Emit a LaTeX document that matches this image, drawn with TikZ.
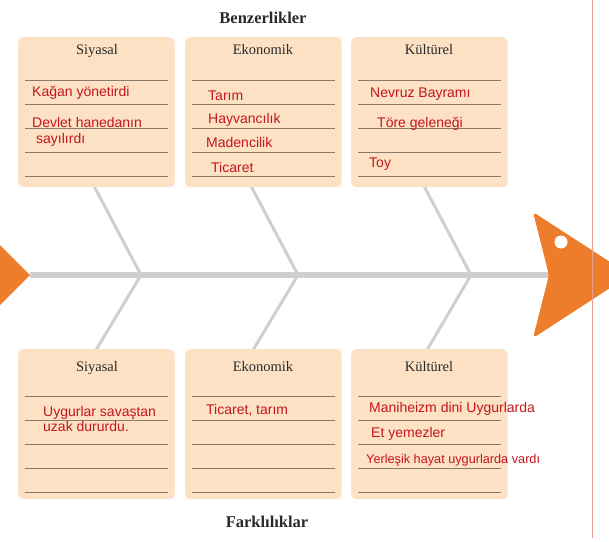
\documentclass[tikz,border=0pt]{standalone}
\usepackage{fontspec}
\setmainfont{Liberation Serif}
\newfontfamily\handf{Liberation Sans}
\definecolor{peach}{HTML}{FCE1C4}
\definecolor{rulec}{HTML}{8C7B6B}
\definecolor{redc}{HTML}{C4161C}
\definecolor{spinec}{HTML}{CFCFCF}
\definecolor{orangec}{HTML}{EE7D2B}
\definecolor{marginc}{HTML}{E9A08E}
\definecolor{titlec}{HTML}{2A2A2A}
\begin{document}
\begin{tikzpicture}[x=1pt,y=-1pt,
  panel/.style={fill=peach, rounded corners=5pt, minimum width=156.5pt, minimum height=150pt, inner sep=0pt, anchor=north west},
  ttl/.style={font=\fontsize{14.5}{14.5}\selectfont, text=titlec, inner sep=0pt, anchor=base},
  head/.style={font=\bfseries\fontsize{16.5}{16.5}\selectfont, text=titlec, inner sep=0pt, anchor=base},
  ans/.style={font=\handf\fontsize{14}{14}\selectfont, text=redc, anchor=base west, inner sep=0pt},
  rulel/.style={draw=rulec, line width=0.9pt},
  rib/.style={draw=spinec, line width=3pt},
  spine/.style={draw=spinec, line width=6pt},
  fishhead/.style={fill=orangec, draw=none},
  margin/.style={draw=marginc, line width=0.8pt}
]
\useasboundingbox (0,0) rectangle (609,541);
\begin{scope}
\clip (0,0) rectangle (609,541);

% spine junctions and rib ends
\coordinate (j1) at (141,275);
\coordinate (j2) at (298,275);
\coordinate (j3) at (471,275);
\coordinate (t1) at (94,186);
\coordinate (t2) at (251,186);
\coordinate (t3) at (424,186);
\coordinate (b1) at (96,350);
\coordinate (b2) at (253,350);
\coordinate (b3) at (427,350);
\coordinate (tail) at (30,275);
\coordinate (notch) at (549,275);

% tail
\path[fishhead] (tail) -- (-20,225) -- (-20,325) -- cycle;
% spine and ribs
\draw[spine] (tail) -- (notch);
\foreach \i in {1,2,3}{
  \draw[rib] (t\i) -- (j\i) -- (b\i);
}
% head
\path[fishhead, rounded corners=4pt] (notch) -- (533,212) -- (630,275) -- (533,338) -- cycle;
\node[circle, fill=white, minimum size=13pt, inner sep=0pt] (eye) at (561,242) {};

% panels
\node[panel] (p1) at (18,37) {};
\node[panel] (p2) at (185,37) {};
\node[panel] (p3) at (351,37) {};
\node[panel] (q1) at (18,349) {};
\node[panel] (q2) at (185,349) {};
\node[panel] (q3) at (351,349) {};

\foreach \x in {18,185,351}{
  \foreach \y in {80,104,128,152,176}{
    \draw[rulel] (\x+7,\y) -- (\x+150,\y);
  }
  \foreach \y in {396,420,444,468,492}{
    \draw[rulel] (\x+7,\y) -- (\x+150,\y);
  }
}

% headings
\node[head] (h1) at (263,23) {Benzerlikler};
\node[head] (h2) at (267,527) {Farklılıklar};

% panel titles
\node[ttl] (s1) at (97,54) {Siyasal};
\node[ttl] (s2) at (263,54) {Ekonomik};
\node[ttl] (s3) at (429,54) {Kültürel};
\node[ttl] (s4) at (97,371) {Siyasal};
\node[ttl] (s5) at (263,371) {Ekonomik};
\node[ttl] (s6) at (429,371) {Kültürel};

% answers top
\node[ans] (a1) at (32,96) {Kağan yönetirdi};
\node[ans] (a2) at (32,127) {Devlet hanedanın};
\node[ans] (a3) at (36,143) {sayılırdı};
\node[ans] (a4) at (208,100) {Tarım};
\node[ans] (a5) at (208,123) {Hayvancılık};
\node[ans] (a6) at (206,147) {Madencilik};
\node[ans] (a7) at (211,172) {Ticaret};
\node[ans] (a8) at (370,97) {Nevruz Bayramı};
\node[ans] (a9) at (377,127) {Töre geleneği};
\node[ans] (a10) at (369,167) {Toy};
% answers bottom
\node[ans] (c1) at (43,416) {Uygurlar savaştan};
\node[ans] (c2) at (43,431) {uzak dururdu.};
\node[ans] (c3) at (206,414) {Ticaret, tarım};
\node[ans] (c4) at (369,412) {Maniheizm dini Uygurlarda};
\node[ans] (c5) at (371,437) {Et yemezler};
\node[ans, font=\handf\fontsize{12.7}{12.7}\selectfont] (c6) at (366,463) {Yerleşik hayat uygurlarda vardı};

% page margin line
\coordinate (m1) at (592,0);
\coordinate (m2) at (592,538);
\draw[margin] (m1) -- (m2);
\end{scope}
\end{tikzpicture}
\end{document}
